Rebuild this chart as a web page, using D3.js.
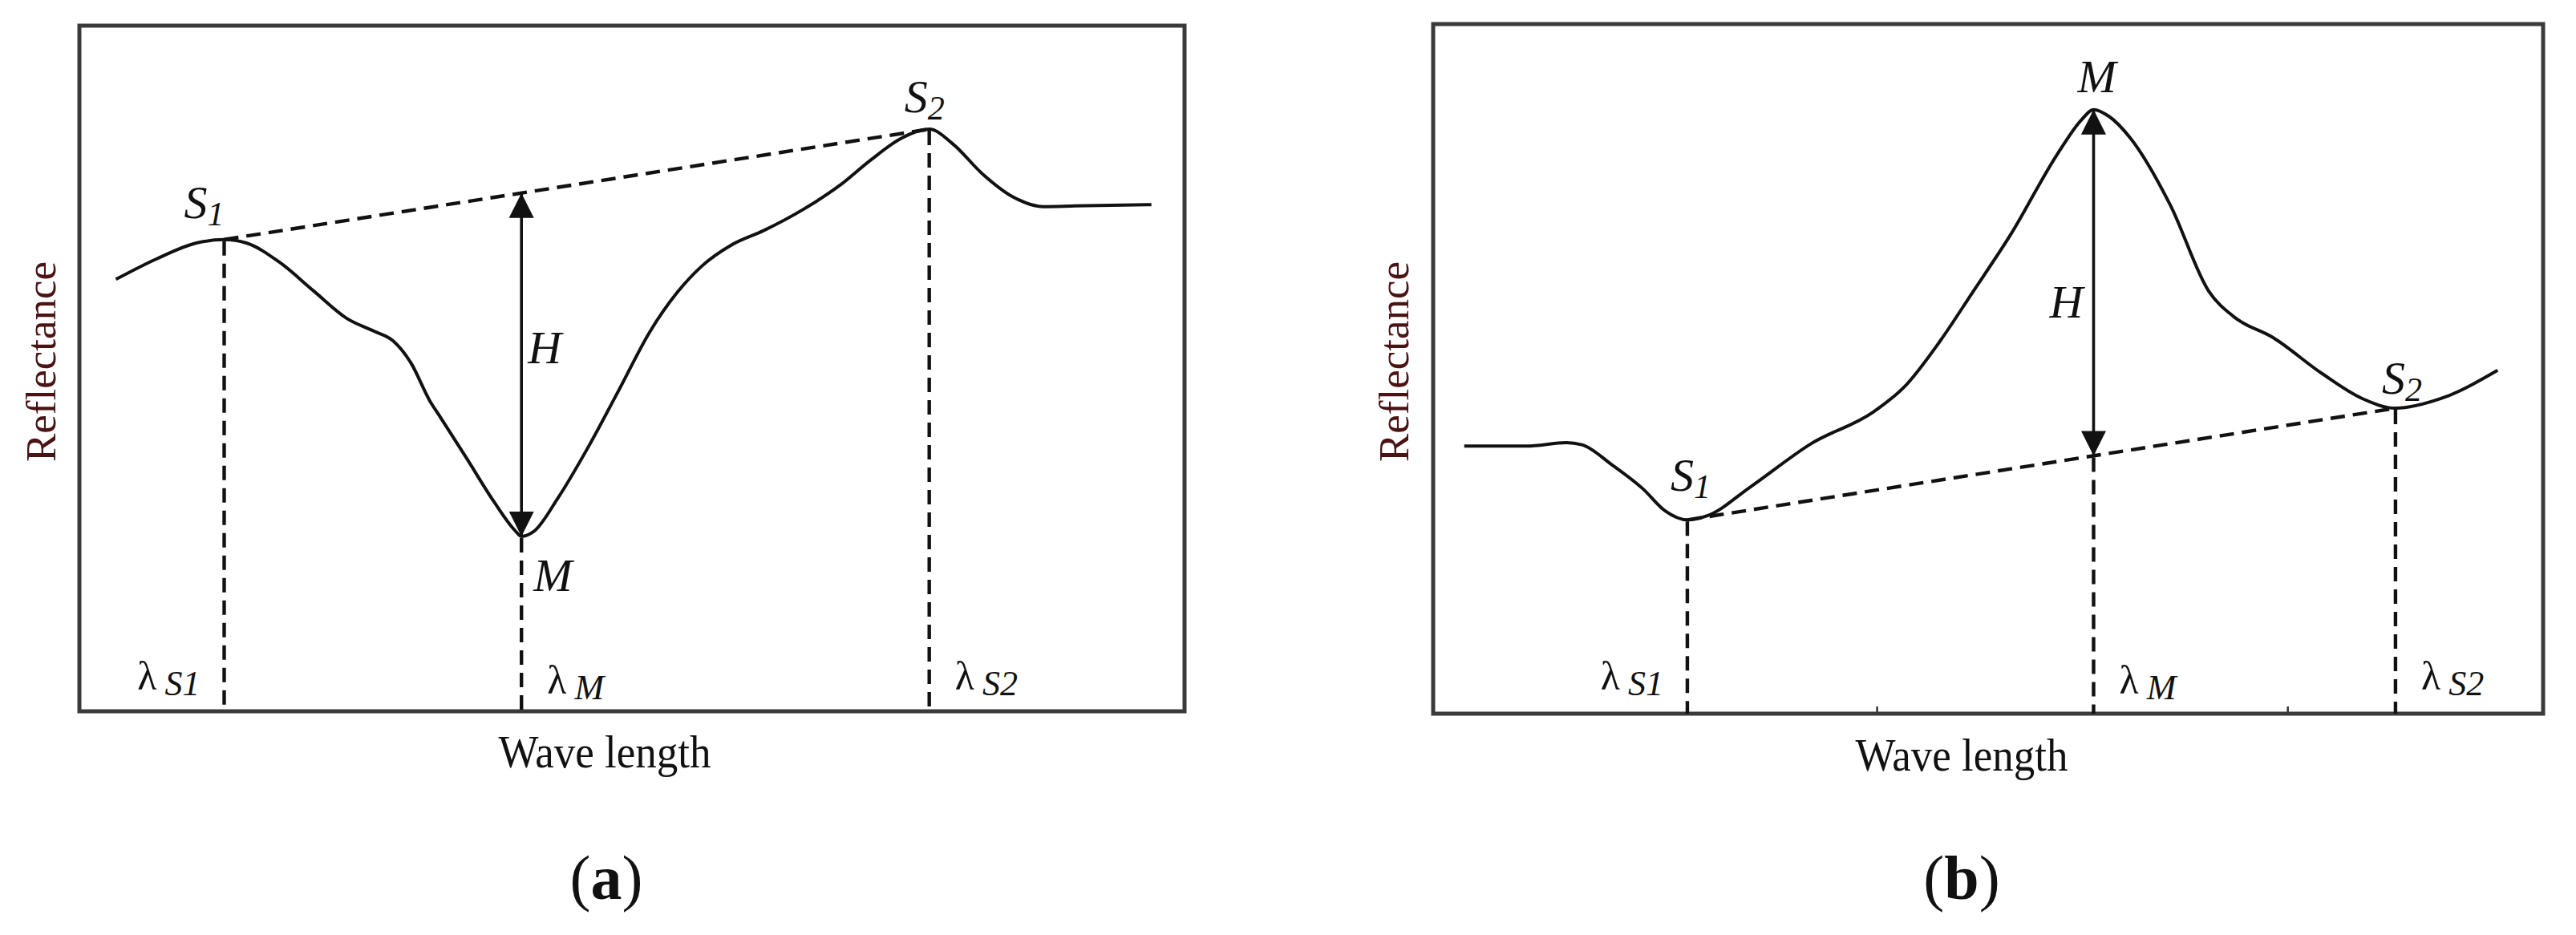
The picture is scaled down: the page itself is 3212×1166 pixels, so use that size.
<!DOCTYPE html>
<html lang="en">
<head>
<meta charset="UTF-8">
<title>Reflectance feature depth</title>
<script src="https://cdn.jsdelivr.net/npm/d3@7"></script>
<style>
    body { margin: 0; background: #fff; }
    svg text { font-family: "Liberation Serif", "DejaVu Serif", serif; fill: #111; }
    .frame { fill: none; stroke: #3a3a3a; stroke-width: 5; }
    .curve { fill: none; stroke: #111; stroke-width: 4; }
    .dash { fill: none; stroke: #111; stroke-width: 4.4; stroke-dasharray: 18, 10; }
    .arrow { stroke: #111; stroke-width: 3.6; }
    .tick { stroke: #333; stroke-width: 2.5; }
    .ylab { font-size: 53px; fill: #4a1414 !important; }
    .xlab { font-size: 56px; }
    .mark { font-style: italic; font-size: 58px; }
    .lam { font-size: 50px; }
    .tag { font-size: 78px; }
</style>
</head>
<body>
<svg width="3212" height="1166"></svg>
<script>
    // (a) absorption feature: wavelength / reflectance (relative units 0-100)
    var waveA = [3.3, 7.0, 10.6, 13.1, 15.1, 18.1, 21.2, 24.2, 26.7, 28.4, 30.0, 31.7, 32.7, 35.0, 37.5, 39.4, 40.0,
        41.1, 43.3, 46.1, 48.8, 51.6, 54.1, 56.3, 59.1, 61.9, 65.5, 68.8, 71.6, 74.4, 76.9, 79.0, 81.7, 84.5, 87.2, 90.1, 97.0];
    var reflA = [63.0, 66.0, 68.3, 68.8, 68.3, 65.5, 61.3, 57.3, 55.4, 54.0, 50.8, 45.3, 42.8, 37.0, 30.6, 26.4, 25.5,
        26.2, 31.1, 38.7, 46.8, 55.3, 61.1, 64.9, 68.1, 70.1, 73.2, 76.7, 80.4, 83.6, 84.9, 82.8, 78.4, 75.0, 73.6, 73.7, 73.9];
    var keyA = [13.1, 40.0, 76.9];   // λS1, λM, λS2

    // (b) reflectance peak
    var waveB = [2.8, 8.4, 12.0, 13.4, 16.1, 18.9, 20.9, 22.9, 24.7, 28.6, 34.1, 39.7, 42.4, 45.7, 48.6, 52.0, 56.3,
        58.4, 59.5, 60.9, 62.8, 66.4, 69.9, 72.1, 75.7, 80.1, 83.7, 86.7, 90.8, 95.9];
    var reflB = [38.8, 38.8, 39.3, 39.0, 36.1, 32.6, 29.4, 28.1, 28.7, 32.9, 39.2, 43.8, 47.3, 54.1, 61.1, 69.4, 81.3,
        86.1, 87.6, 86.6, 83.5, 73.8, 61.2, 57.6, 54.5, 49.3, 45.7, 44.3, 45.7, 49.8];
    var keyB = [22.9, 59.5, 86.7];
    var ticksB = [40.0, 77.0];

    var keyNames = ["S1", "M", "S2"];
    var xTitle = "Wave length";
    var yTitle = "Reflectance";

    var svg = d3.select("svg");

    var defs = svg.append("defs");
    defs.append("marker")
            .attr("id", "tri")
            .attr("viewBox", "0 0 10 10")
            .attr("refX", 10)
            .attr("refY", 5)
            .attr("markerWidth", 31)
            .attr("markerHeight", 31)
            .attr("markerUnits", "userSpaceOnUse")
            .attr("orient", "auto-start-reverse")
            .append("path")
            .attr("d", "M0,0L10,5L0,10Z")
            .attr("fill", "#111");

    var panels = [
        {
            tag: "a", box: [99, 32, 1477, 887], wave: waveA, refl: reflA, keys: keyA, ticks: [],
            ylabX: 51, xlabY: 957, tagX: 756,
            dashFromBase: false,
            lab: {S1: [-50, -27], M: [15, 68], S2: [-31, -21]},
            H: [8, -2]
        },
        {
            tag: "b", box: [1787, 30, 3171, 890], wave: waveB, refl: reflB, keys: keyB, ticks: ticksB,
            ylabX: 1738, xlabY: 961, tagX: 2446,
            dashFromBase: true,
            lab: {S1: [-21, -36], M: [-20, -22], S2: [-17, -18]},
            H: [-55, 43]
        }
    ];

    panels.forEach(function (p) {
        var x0 = p.box[0], y0 = p.box[1], x1 = p.box[2], y1 = p.box[3];
        var x = d3.scaleLinear().domain([0, 100]).range([x0, x1]);
        var y = d3.scaleLinear().domain([0, 100]).range([y1, y0]);
        var g = svg.append("g");

        var pts = p.wave.map(function (w, i) { return [w, p.refl[i]]; });
        var at = function (w) { return p.refl[p.wave.indexOf(w)]; };

        var s1 = [p.keys[0], at(p.keys[0])];
        var m = [p.keys[1], at(p.keys[1])];
        var s2 = [p.keys[2], at(p.keys[2])];
        // continuum line value at λM
        var base = s1[1] + (m[0] - s1[0]) / (s2[0] - s1[0]) * (s2[1] - s1[1]);

        // frame
        g.append("rect")
                .attr("class", "frame")
                .attr("x", x0).attr("y", y0)
                .attr("width", x1 - x0).attr("height", y1 - y0);

        g.selectAll(".tick")
                .data(p.ticks)
                .enter()
                .append("line")
                .attr("class", "tick")
                .attr("x1", function (d) { return x(d); })
                .attr("x2", function (d) { return x(d); })
                .attr("y1", y1).attr("y2", y1 - 9);

        // continuum (dashed) S1 -> S2
        g.append("line")
                .attr("class", "dash")
                .attr("x1", x(s1[0])).attr("y1", y(s1[1]))
                .attr("x2", x(s2[0])).attr("y2", y(s2[1]));

        // vertical drop lines
        var drops = [s1, p.dashFromBase ? [m[0], base] : m, s2];
        g.selectAll(".drop")
                .data(drops)
                .enter()
                .append("line")
                .attr("class", "dash drop")
                .attr("x1", function (d) { return x(d[0]); })
                .attr("x2", function (d) { return x(d[0]); })
                .attr("y1", function (d) { return y(d[1]) + 2; })
                .attr("y2", y1);

        // spectrum
        var line = d3.line()
                .x(function (d) { return x(d[0]); })
                .y(function (d) { return y(d[1]); })
                .curve(d3.curveMonotoneX);
        g.append("path")
                .datum(pts)
                .attr("class", "curve")
                .attr("d", line);

        // depth arrow H
        g.append("line")
                .attr("class", "arrow")
                .attr("x1", x(m[0])).attr("y1", y(m[1]))
                .attr("x2", x(m[0])).attr("y2", y(base))
                .attr("marker-start", "url(#tri)")
                .attr("marker-end", "url(#tri)");

        var mid = (y(m[1]) + y(base)) / 2;
        g.append("text")
                .attr("class", "mark")
                .attr("x", x(m[0]) + p.H[0])
                .attr("y", mid + p.H[1])
                .text("H");

        // point labels S1, M, S2
        [s1, m, s2].forEach(function (d, i) {
            var name = keyNames[i];
            var off = p.lab[name];
            var t = g.append("text")
                    .attr("class", "mark")
                    .attr("x", x(d[0]) + off[0])
                    .attr("y", y(d[1]) + off[1]);
            t.append("tspan").text(name.charAt(0));
            if (name.length > 1) {
                t.append("tspan")
                        .attr("dy", 9)
                        .attr("font-size", 42)
                        .text(name.slice(1));
            }
        });

        // λ labels along the bottom
        p.keys.forEach(function (k, i) {
            var left = i === 0;
            var t = g.append("text")
                    .attr("class", "lam")
                    .attr("x", x(k) + (left ? -30 : 32))
                    .attr("y", 860 + (i === 1 ? 5 : 0))
                    .attr("text-anchor", left ? "end" : "start");
            t.append("tspan").text("λ");
            t.append("tspan")
                    .attr("dx", 10)
                    .attr("dy", 7)
                    .attr("font-style", "italic")
                    .attr("font-size", 44)
                    .text(keyNames[i]);
        });

        // axis titles
        g.append("text")
                .attr("class", "ylab")
                .attr("text-anchor", "middle")
                .attr("transform", "translate(" + (p.ylabX + 18) + "," + 451 + ") rotate(-90)")
                .text(yTitle);
        g.append("text")
                .attr("class", "xlab")
                .attr("text-anchor", "middle")
                .attr("x", (x0 + x1) / 2 + (p.tag === "a" ? -34 : -33))
                .attr("y", p.xlabY)
                .attr("textLength", 265)
                .attr("lengthAdjust", "spacingAndGlyphs")
                .text(xTitle);

        // panel tag
        var tg = g.append("text")
                .attr("class", "tag")
                .attr("text-anchor", "middle")
                .attr("x", p.tagX)
                .attr("y", 1121);
        tg.append("tspan").text("(");
        tg.append("tspan").attr("font-weight", "bold").text(p.tag);
        tg.append("tspan").text(")");
    });
</script>
</body>
</html>
